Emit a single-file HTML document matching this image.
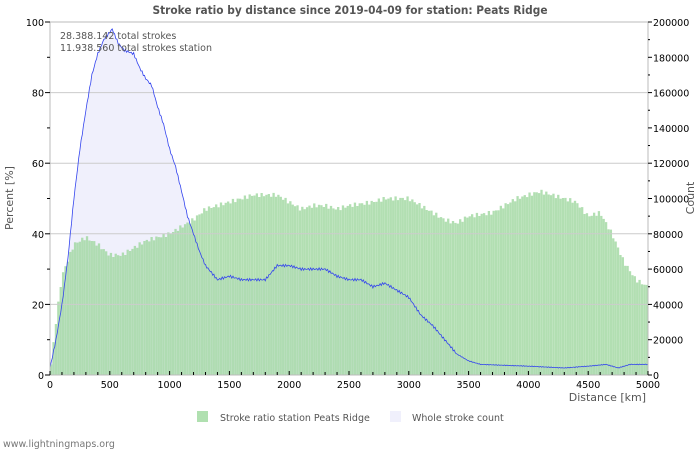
<!DOCTYPE html>
<html><head><meta charset="utf-8"><style>
body{margin:0;background:#fff;width:700px;height:450px;overflow:hidden}
svg{font-family:"DejaVu Sans","Liberation Sans",sans-serif}
</style></head><body>
<svg id="s" width="700" height="450" xmlns="http://www.w3.org/2000/svg">
<text x="350" y="14" text-anchor="middle" font-size="11.5" font-weight="bold" fill="#555" textLength="395" lengthAdjust="spacingAndGlyphs">Stroke ratio by distance since 2019-04-09 for station: Peats Ridge</text>
<path id="area" fill="#f0f0fc" stroke="none"/>
<g id="bars"></g>
<g id="grid"></g>
<path id="line" fill="none" stroke="#3344ee" stroke-width="0.8"/>
<rect x="50" y="22" width="598" height="353" fill="none" stroke="#bbb"/>
<g id="ax" font-size="9.5" fill="#000"></g>
<text x="60" y="39" font-size="9.5" fill="#555">28.388.142 total strokes</text>
<text x="60" y="51" font-size="9.5" fill="#555">11.938.560 total strokes station</text>
<text x="646" y="401" font-size="11" fill="#555" text-anchor="end">Distance   [km]</text>
<text transform="translate(13,198) rotate(-90)" font-size="11" fill="#555" text-anchor="middle">Percent   [%]</text>
<text transform="translate(694,198) rotate(-90)" font-size="11" fill="#555" text-anchor="middle">Count</text>
<rect x="197" y="411" width="11" height="11" fill="#b0e0b0"/>
<text x="220" y="421" font-size="9.5" fill="#555">Stroke ratio station Peats Ridge</text>
<rect x="390" y="411" width="11" height="11" fill="#f0f0fc"/>
<text x="412" y="421" font-size="9.5" fill="#555">Whole stroke count</text>
<text x="3" y="447" font-size="9.5" fill="#777">www.lightningmaps.org</text>
</svg>
<script>
function X(k){return 50+k*0.1196}function Y(p){return 375-p*3.53}
function interp(t,k){for(var i=1;i<t.length;i++){if(k<=t[i][0]){var a=t[i-1],b=t[i];return a[1]+(b[1]-a[1])*(k-a[0])/(b[0]-a[0]);}}return t[t.length-1][1];}
var G=[[0,0],[50,15],[100,28],[200,37],[300,39],[400,37],[500,34],[600,34],[700,36],[800,38],[900,39],[1000,40],[1100,42],[1200,44],[1300,47],[1500,49],[1700,51],[1900,51],[2000,49],[2100,47],[2200,48],[2300,48],[2400,47],[2500,48],[2700,49],[2800,50],[3000,50],[3100,48],[3200,46],[3300,44],[3400,43],[3500,45],[3700,46],[3800,48],[3900,50],[4000,51],[4100,52],[4300,50],[4400,49],[4500,45],[4600,46],[4700,40],[4800,32],[4900,27],[5000,25]];
var B=[[0,2],[50,10],[100,20],[150,33],[200,50],[250,64],[300,75],[350,85],[400,91],[450,95],[520,98],[570,94],[620,92],[700,91],[750,87],[800,84],[850,82],[900,76],[950,71],[1000,64],[1050,59],[1100,52],[1150,45],[1200,40],[1250,35],[1300,31],[1400,27],[1500,28],[1600,27],[1700,27],[1800,27],[1900,31],[2000,31],[2100,30],[2200,30],[2300,30],[2400,28],[2500,27],[2600,27],[2700,25],[2800,26],[2900,24],[3000,22],[3100,17],[3200,14],[3300,10],[3400,6],[3500,4],[3600,3],[4000,2.5],[4300,2],[4500,2.5],[4650,3],[4750,2],[4850,3],[5000,3]];
var h='';for(var k=0;k<5000;k+=20){var p=interp(G,k+10)+Math.sin(k*1.7)*0.6;h+='<rect x="'+X(k).toFixed(2)+'" y="'+Y(p).toFixed(1)+'" width="2.3" height="'+(p*3.53).toFixed(1)+'" fill="#9fd79f" fill-opacity="0.8"/>';}
document.getElementById('bars').innerHTML=h;
var d='M50,375',l='';for(var k=0;k<=5000;k+=10){var p=interp(B,k)+(k<3400?Math.sin(k*0.9)*0.35:Math.sin(k*0.9)*0.1);var s=X(k).toFixed(1)+','+Y(p).toFixed(1);d+=' L'+s;l+=(l?' L':'M')+s;}
d+=' L648,375 Z';document.getElementById('area').setAttribute('d',d);document.getElementById('line').setAttribute('d',l);
var g='';for(var p=20;p<100;p+=20)g+='<line x1="50" x2="648" y1="'+Y(p)+'" y2="'+Y(p)+'" stroke="#ccc"/>';document.getElementById('grid').innerHTML=g;
var a='';for(var p=0;p<=100;p+=20)a+='<text x="44" y="'+(Y(p)+4)+'" text-anchor="end">'+p+'</text><line x1="45" x2="50" y1="'+Y(p)+'" y2="'+Y(p)+'" stroke="#000"/>';
for(var p=10;p<100;p+=20)a+='<line x1="47" x2="50" y1="'+Y(p)+'" y2="'+Y(p)+'" stroke="#000"/>';
for(var c=0;c<=200000;c+=20000){var y=Y(c/2000);a+='<text x="653" y="'+(y+4)+'">'+c+'</text><line x1="648" x2="652" y1="'+y+'" y2="'+y+'" stroke="#000"/>';}
for(var c=10000;c<200000;c+=20000){var y=Y(c/2000);a+='<line x1="648" x2="650" y1="'+y+'" y2="'+y+'" stroke="#000"/>';}
for(var k=0;k<=5000;k+=100){var x=X(k);a+='<line x1="'+x+'" x2="'+x+'" y1="'+(k%500?372:371)+'" y2="375" stroke="#000"/>';if(k%500==0)a+='<text x="'+x+'" y="388" text-anchor="middle">'+k+'</text>';}
document.getElementById('ax').innerHTML=a;
</script>
</body></html>
